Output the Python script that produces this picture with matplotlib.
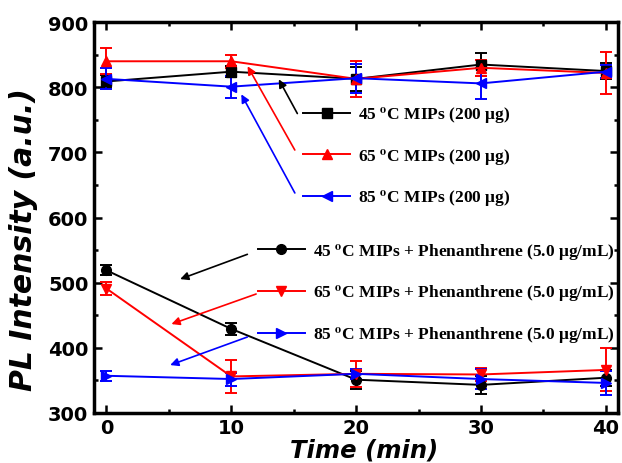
import matplotlib
matplotlib.use('Agg')
import matplotlib.pyplot as plt
from matplotlib.ticker import MultipleLocator

# data
time = [0, 10, 20, 30, 40]

mip45 = [809, 824, 813, 835, 825]
mip45_err = [10, 8, 18, 18, 12]
mip65 = [840, 840, 813, 830, 822]
mip65_err = [20, 10, 28, 12, 32]
mip85 = [813, 801, 814, 806, 824]
mip85_err = [16, 17, 22, 24, 10]

phe45 = [519, 429, 351, 343, 354]
phe45_err = [8, 9, 14, 14, 12]
phe65 = [491, 356, 360, 359, 366]
phe65_err = [10, 25, 20, 10, 33]
phe85 = [357, 352, 360, 352, 346]
phe85_err = [8, 10, 8, 16, 18]

labels_mip = ['45 $^{\\mathbf{o}}$C MIPs (200 \u03bcg)',
              '65 $^{\\mathbf{o}}$C MIPs (200 \u03bcg)',
              '85 $^{\\mathbf{o}}$C MIPs (200 \u03bcg)']
labels_phe = ['45 $^{\\mathbf{o}}$C MIPs + Phenanthrene (5.0 \u03bcg/mL)',
              '65 $^{\\mathbf{o}}$C MIPs + Phenanthrene (5.0 \u03bcg/mL)',
              '85 $^{\\mathbf{o}}$C MIPs + Phenanthrene (5.0 \u03bcg/mL)']

plt.rcParams['mathtext.fontset'] = 'stix'

fig = plt.figure(figsize=(6.22, 4.64), dpi=100)
ax = fig.add_axes([0.151, 0.108, 0.843, 0.842])

series = [
    (mip45, mip45_err, 'black', 's'),
    (mip65, mip65_err, 'red', '^'),
    (mip85, mip85_err, 'blue', '<'),
    (phe45, phe45_err, 'black', 'o'),
    (phe65, phe65_err, 'red', 'v'),
    (phe85, phe85_err, 'blue', '>'),
]
handles = []
for y, e, c, m in series:
    cont = ax.errorbar(time, y, yerr=e, color=c, marker=m, markersize=7,
                       lw=1.4, capsize=4, elinewidth=1.4, capthick=1.4)
    handles.append(cont[0])

ax.set_xlim(-1, 41)
ax.set_ylim(300, 900)
ax.xaxis.set_major_locator(MultipleLocator(10))
ax.xaxis.set_minor_locator(MultipleLocator(5))
ax.yaxis.set_major_locator(MultipleLocator(100))
ax.yaxis.set_minor_locator(MultipleLocator(50))
ax.tick_params(which='both', direction='in', top=True, right=True, width=1.8)
ax.tick_params(which='major', length=6, labelsize=14, pad=4)
ax.tick_params(which='minor', length=3)
for lab in ax.get_xticklabels() + ax.get_yticklabels():
    lab.set_fontweight('bold')
for s in ax.spines.values():
    s.set_linewidth(2.5)

ax.set_xlabel('Time (min)', fontsize=17.5, fontweight='bold', style='italic')
ax.xaxis.set_label_coords(0.515, -0.063)
ax.set_ylabel('PL Intensity (a.u.)', fontsize=21.5, fontweight='bold', style='italic')
ax.yaxis.set_label_coords(-0.107, 0.445)

leg_font = {'family': 'Liberation Serif', 'weight': 'bold', 'size': 12.5}
leg_kw = dict(loc='upper left', frameon=False, prop=leg_font, handlelength=2.7,
              labelspacing=1.2, handletextpad=0.45, borderpad=0, borderaxespad=0)
leg1 = ax.legend(handles[:3], labels_mip, bbox_to_anchor=(0.399, 0.79), **leg_kw)
ax.add_artist(leg1)
ax.legend(handles[3:], labels_phe, bbox_to_anchor=(0.313, 0.44), **leg_kw)

# arrows from legend entries to curves
arrows = [
    ((15.4, 756), (13.7, 816), 'black'),
    ((15.2, 700), (11.2, 836), 'red'),
    ((15.2, 634), (10.7, 793), 'blue'),
    ((11.5, 545), (5.7, 504), 'black'),
    ((12.2, 484), (5.0, 435), 'red'),
    ((11.5, 418), (4.9, 372), 'blue'),
]
for start, end, c in arrows:
    ax.annotate('', xy=end, xytext=start,
                arrowprops=dict(arrowstyle='-|>', color=c, lw=1.2, mutation_scale=12))

fig.savefig('out.png', dpi=100)
